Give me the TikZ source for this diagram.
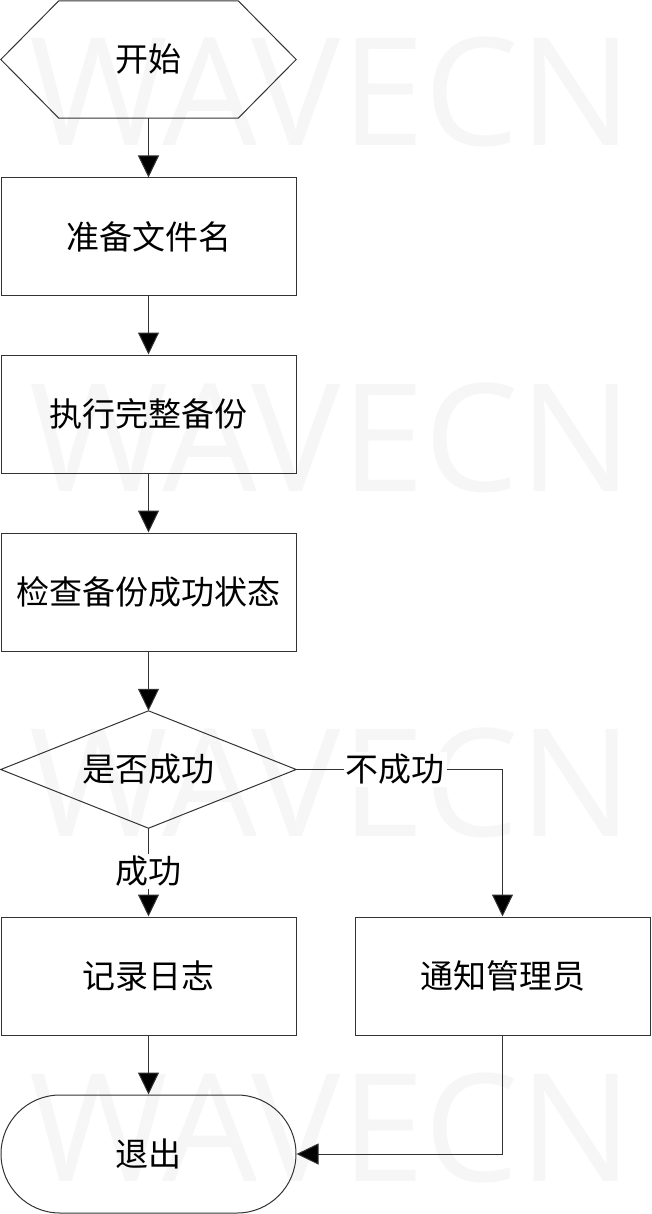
\documentclass[tikz,border=0pt]{standalone}
\usepackage{fontspec}
\newfontfamily\cjk{Noto Sans CJK SC}
\newfontfamily\wmfont{Open Sans}
\usetikzlibrary{arrows.meta,shapes.geometric}
\definecolor{wmgray}{HTML}{F6F6F6}
\definecolor{linegray}{HTML}{333333}
\begin{document}
\begin{tikzpicture}[x=1pt,y=-1pt,
  wm/.style={text=wmgray, font=\wmfont\fontsize{150}{154}\selectfont, anchor=base, inner sep=0pt, text depth=0pt},
  txt/.style={font=\cjk\fontsize{33}{38}\selectfont, text=black},
  boxnode/.style={txt, draw=linegray, line width=1pt, minimum width=295pt, minimum height=118pt, inner sep=0pt},
  plainnode/.style={txt, minimum width=295pt, minimum height=117pt, inner sep=0pt},
  endnode/.style={boxnode, rounded corners=59pt},
  outline/.style={draw=linegray, line width=1pt},
  arr/.style={draw=linegray, line width=1pt, -{Triangle[width=21pt,length=22pt,fill=black]}},
  lbl/.style={txt, fill=white, inner sep=2pt}
]
\useasboundingbox (0,0) rectangle (651,1214);
\fill[white] (0,0) rectangle (651,1214);
% watermarks
\node[wm] (wm1) at (331,146) {WAVECN};
\node[wm] (wm2) at (331,491) {WAVECN};
\node[wm] (wm3) at (331,836) {WAVECN};
\node[wm] (wm4) at (331,1181) {WAVECN};
% nodes
\node[plainnode] (start) at (148.5,59.5) {开始};
\draw[outline] (start.west) -- ([xshift=58pt]start.north west) -- ([xshift=-58pt]start.north east) -- (start.east) -- ([xshift=-58pt]start.south east) -- ([xshift=58pt]start.south west) -- cycle;
\node[boxnode] (b1) at (148.5,237) {准备文件名};
\node[boxnode] (b2) at (148.5,414) {执行完整备份};
\node[boxnode] (b3) at (148.5,592) {检查备份成功状态};
\node[plainnode] (dec) at (148.5,769.5) {是否成功};
\draw[outline] (dec.north) -- (dec.east) -- (dec.south) -- (dec.west) -- cycle;
\node[boxnode] (log) at (148.5,976) {记录日志};
\node[boxnode] (notify) at (502.5,976) {通知管理员};
\node[endnode] (exit) at (148.5,1154) {退出};
% connectors
\draw[arr] (start.south) -- (b1.north);
\draw[arr] (b1.south) -- (b2.north);
\draw[arr] (b2.south) -- (b3.north);
\draw[arr] (b3.south) -- (dec.north);
\draw[arr] (dec.south) -- (log.north) node[lbl, pos=0.49] (lyes) {成功};
\draw[arr] (dec.east) -| (notify.north) node[lbl, pos=0.24] (lno) {不成功};
\draw[arr] (log.south) -- (exit.north);
\draw[arr] (notify.south) |- (exit.east);
\end{tikzpicture}
\end{document}
